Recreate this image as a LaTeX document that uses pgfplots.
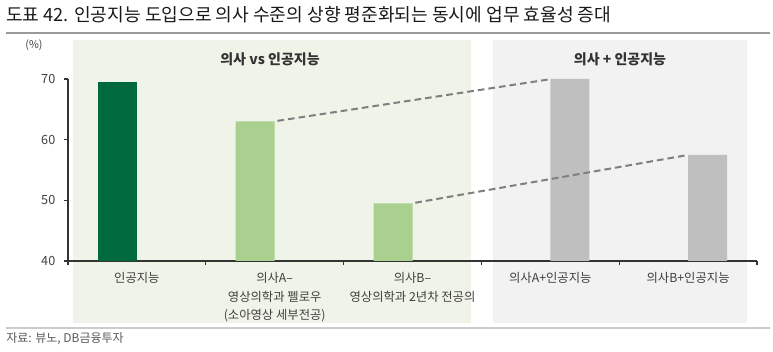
\documentclass[border=0pt]{standalone}
\usepackage{pgfplots}
\pgfplotsset{compat=1.18}
\usepackage{fontspec}
\setmainfont{Noto Sans CJK KR}
\definecolor{dkgreen}{HTML}{00693E}
\definecolor{ltgreen}{HTML}{A9D08E}
\definecolor{barGray}{HTML}{BFBFBF}
\definecolor{panelG}{HTML}{F0F4E8}
\definecolor{panelGr}{HTML}{F2F2F2}
\definecolor{dashC}{HTML}{7F7F7F}
\definecolor{txt}{HTML}{404040}
\begin{document}
\begin{tikzpicture}[x=0.75pt,y=0.75pt]
\useasboundingbox (0,0) rectangle (773,352);
% title and rules
\node[anchor=west, inner sep=0pt, font=\fontsize{13.6}{15}\selectfont, text=black!90] at (6,337) {도표 42. 인공지능 도입으로 의사 수준의 상향 평준화되는 동시에 업무 효율성 증대};
\draw[black!40, line width=1.2pt] (6,319) -- (770,319);
\draw[black!20, line width=1.2pt] (6,24) -- (770,24);
\node[anchor=west, inner sep=0pt, font=\fontsize{9}{10}\selectfont, text=black!65] at (6,13) {자료: 뷰노, DB금융투자};
% panels
\fill[panelG] (73,312) rectangle (471,29);
\fill[panelGr] (493,312) rectangle (747,29);
\node[font=\fontsize{10.5}{12}\selectfont\bfseries, text=black!80] at (270,292.5) {의사 vs 인공지능};
\node[font=\fontsize{10.5}{12}\selectfont\bfseries, text=black!80] at (620,292.5) {의사 + 인공지능};
\node[font=\fontsize{8}{10}\selectfont, text=txt] at (34,307) {(\%)};
\begin{axis}[
  at={(51pt,68.25pt)}, anchor=south west,
  scale only axis, width=516.75pt, height=136.5pt,
  xmin=-0.5, xmax=4.5, ymin=40, ymax=70,
  axis x line*=bottom, axis y line*=left,
  axis line style={black!80, line width=0.9pt},
  ytick={40,50,60,70},
  xtick={-0.5,0.5,1.5,2.5,3.5,4.5},
  x tick label as interval,
  xticklabels={인공지능, {의사A–\\영상의학과 펠로우\\(소아영상 세부전공)}, {의사B–\\영상의학과 2년차 전공의}, 의사A+인공지능, 의사B+인공지능},
  xticklabel style={align=center, font=\fontsize{9.25}{13.9}\selectfont, text=txt, anchor=north, yshift=-2pt},
  yticklabel style={font=\fontsize{9.5}{11}\selectfont, text=txt, xshift=-3pt},
  /pgf/number format/assume math mode=true,
  tick align=outside, major tick length=3pt,
  tick style={black!80, line width=0.8pt},
  bar width=29.25pt,
  clip=false,
]
\addplot[ybar, bar shift=-14.625pt, fill=dkgreen, draw=none] coordinates {(0,69.5)};
\addplot[ybar, bar shift=-14.625pt, fill=ltgreen, draw=none] coordinates {(1,63) (2,49.5)};
\addplot[ybar, bar shift=14.625pt, fill=barGray, draw=none] coordinates {(3,70) (4,57.5)};
\addplot[sharp plot, dashC, line width=1.5pt, dash pattern=on 5pt off 3pt, no markers] coordinates {(1.02,63.1) (2.98,69.9)};
\addplot[sharp plot, dashC, line width=1.5pt, dash pattern=on 5pt off 3pt, no markers] coordinates {(2.02,49.6) (3.98,57.4)};
\end{axis}
\end{tikzpicture}
\end{document}
